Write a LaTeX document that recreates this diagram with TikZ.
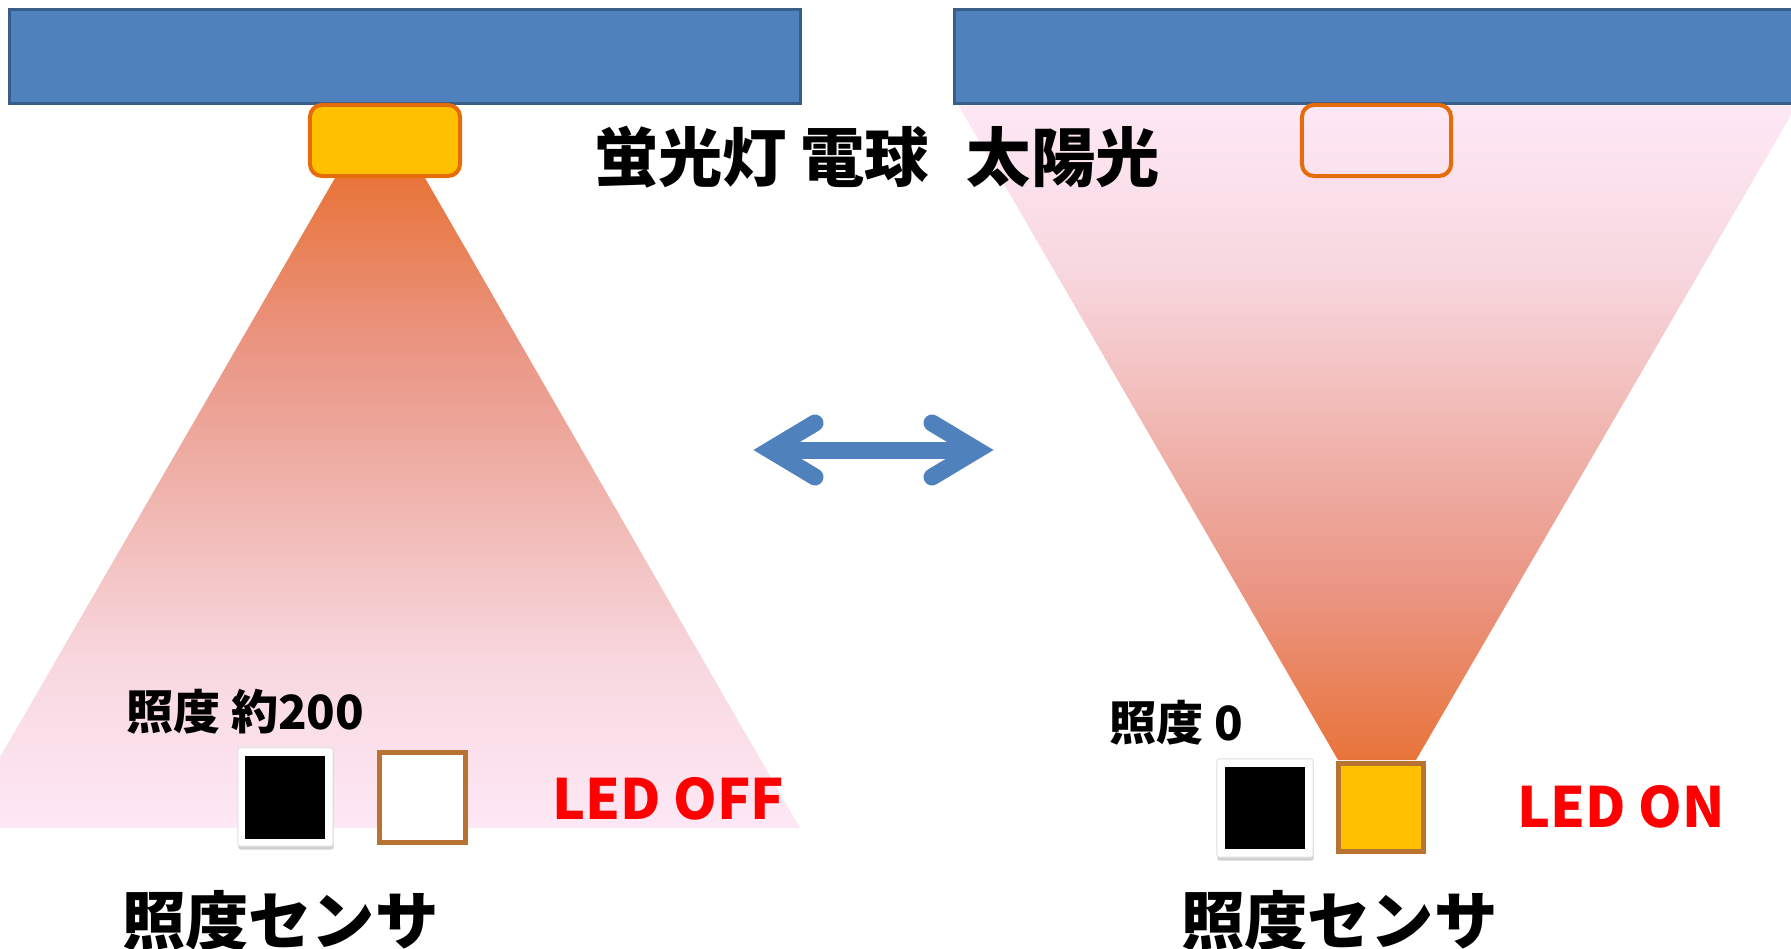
\documentclass[tikz,border=0pt]{standalone}
\usepackage{fontspec}
\setmainfont{Noto Sans CJK JP}
\usetikzlibrary{shadows}
\definecolor{barblue}{HTML}{4F81BD}
\definecolor{bardark}{HTML}{385D8A}
\definecolor{lampfill}{HTML}{FFC000}
\definecolor{lampedge}{HTML}{E46C0A}
\definecolor{ledbrown}{HTML}{B87333}
\definecolor{rayorange}{HTML}{E8743A}
\definecolor{rayq}{HTML}{EA9481}
\definecolor{raymid}{HTML}{F0B6B0}
\definecolor{rayr}{HTML}{F8D8E0}
\definecolor{raypink}{HTML}{FDE8F5}
\definecolor{ledred}{HTML}{FF0000}
\pgfdeclareverticalshading{coneleft}{100bp}{color(0bp)=(raypink); color(25bp)=(raypink); color(37.5bp)=(rayr); color(50bp)=(raymid); color(62.5bp)=(rayq); color(75bp)=(rayorange); color(100bp)=(rayorange)}
\pgfdeclareverticalshading{coneright}{100bp}{color(0bp)=(rayorange); color(25bp)=(rayorange); color(37.5bp)=(rayq); color(50bp)=(raymid); color(62.5bp)=(rayr); color(75bp)=(raypink); color(100bp)=(raypink)}
\newcommand{\titlesize}{\fontsize{18.3}{21}\selectfont\bfseries}
\newcommand{\luxsize}{\fontsize{13.4}{16}\selectfont\bfseries}
\newcommand{\ledsize}{\fontsize{15.8}{19}\selectfont\bfseries}
\newcommand{\sensorsize}{\fontsize{18}{21}\selectfont\bfseries}
\begin{document}
\begin{tikzpicture}[x=0.01cm, y=-0.01cm,
  bar/.style={fill=barblue, draw=bardark, line width=0.03cm, inner sep=0, outer sep=0},
  lamp/.style={draw=lampedge, line width=0.04cm, rounded corners=0.12cm, inner sep=0, outer sep=0},
  frame/.style={fill=white, draw=black!12, line width=0.01cm, rounded corners=0.02cm, inner sep=0,
    drop shadow={shadow xshift=0.005cm, shadow yshift=-0.035cm, fill=black, opacity=0.18}},
  chip/.style={fill=black, inner sep=0, outer sep=0},
  led/.style={draw=ledbrown, line width=0.05cm, inner sep=0, outer sep=0},
  txt/.style={inner sep=0, outer sep=0, anchor=west},
  arrowline/.style={draw=barblue, line width=0.17cm}
]
\useasboundingbox (0,0) rectangle (1791,948);
\clip (0,0) rectangle (1791,948);
% light cones
\shade[shading=coneleft]
  (335,178) -- (425,178) -- (800,828) -- (-41,828) -- cycle;
\shade[shading=coneright]
  (957,103) -- (1798,103) -- (1416,760) -- (1338,760) -- cycle;
% ceilings
\node[bar, minimum width=7.9cm, minimum height=0.93cm] (barL) at (405,56.5) {};
\node[bar, minimum width=8.45cm, minimum height=0.93cm] (barR) at (1377.5,56.5) {};
% lamps
\node[lamp, fill=lampfill, minimum width=1.50cm, minimum height=0.71cm] (lampL) at (385,140.5) {};
\node[lamp, minimum width=1.49cm, minimum height=0.71cm] (lampR) at (1376.5,140.5) {};
% title
\node[txt] (title) at (594,157) {\titlesize 蛍光灯\hspace{0.13cm}電球\hspace{0.38cm}太陽光};
% left sensor
\node[frame, minimum width=0.95cm, minimum height=0.98cm] (frameL) at (285.5,797) {};
\node[chip, minimum width=0.80cm, minimum height=0.83cm] (chipL) at (285,797.5) {};
\node[led, fill=white, minimum width=0.86cm, minimum height=0.90cm] (ledL) at (422.5,797.5) {};
\node[txt] (luxL) at (126,712) {\luxsize 照度 約200};
\node[txt, text=ledred] (offL) at (552,799) {\ledsize LED OFF};
\node[txt] (sensL) at (122,921) {\sensorsize 照度センサ};
% right sensor
\node[frame, minimum width=0.96cm, minimum height=0.98cm] (frameR) at (1265,808) {};
\node[chip, minimum width=0.80cm, minimum height=0.82cm] (chipR) at (1265,808) {};
\node[led, fill=lampfill, minimum width=0.85cm, minimum height=0.88cm] (ledR) at (1381,807.5) {};
\node[txt] (luxR) at (1109,723) {\luxsize 照度 0};
\node[txt, text=ledred] (onR) at (1517,807) {\ledsize LED ON};
\node[txt] (sensR) at (1181,921) {\sensorsize 照度センサ};
% double arrow
\coordinate (arrL) at (770,450);
\coordinate (arrR) at (977,450);
\coordinate (arrLu) at (815,423);
\coordinate (arrLd) at (815,477);
\coordinate (arrRu) at (932,423);
\coordinate (arrRd) at (932,477);
\draw[arrowline] (arrL) -- (arrR);
\draw[arrowline, line join=miter, line cap=round] (arrLu) -- (arrL) -- (arrLd);
\draw[arrowline, line join=miter, line cap=round] (arrRu) -- (arrR) -- (arrRd);
\end{tikzpicture}
\end{document}
